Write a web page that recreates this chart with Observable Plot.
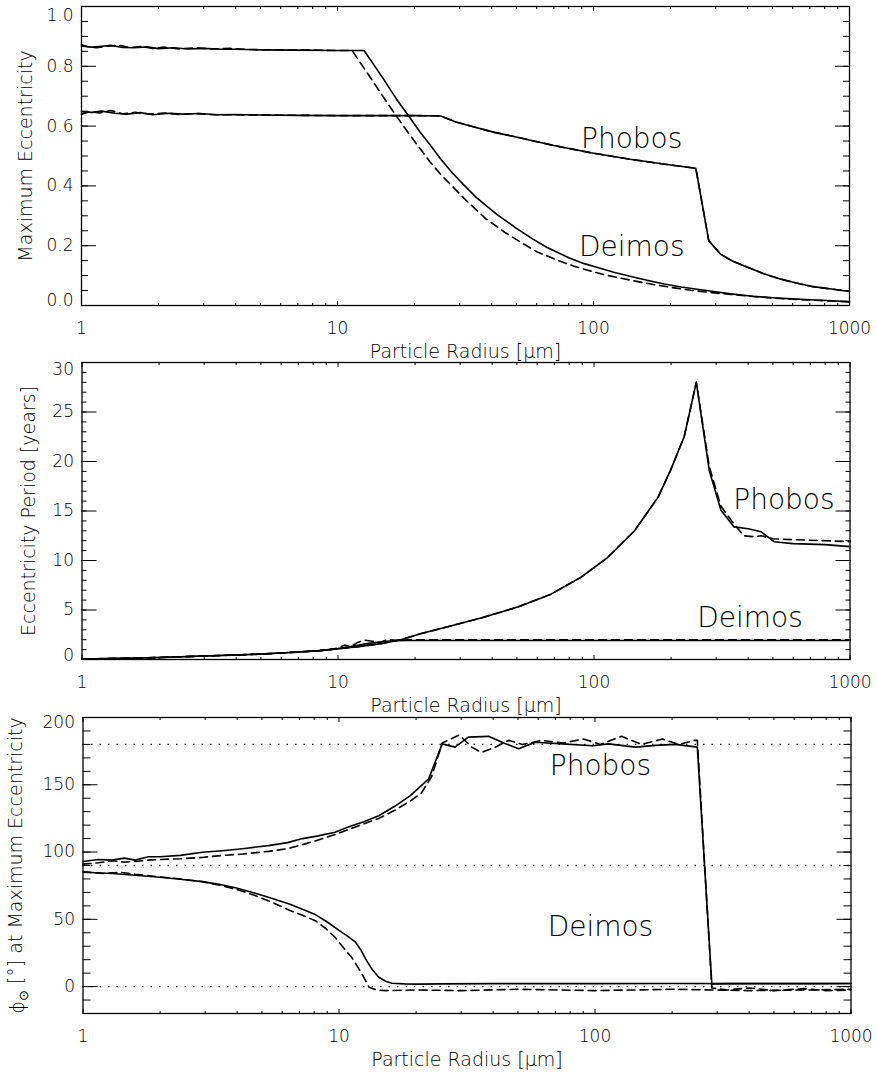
<!DOCTYPE html>
<html>
<head>
<meta charset="utf-8">
<script src="https://cdn.jsdelivr.net/npm/d3@7"></script>
<script src="https://cdn.jsdelivr.net/npm/@observablehq/plot@0.6"></script>
<style>
  html, body { margin: 0; padding: 0; background: #fff; }
  #charts svg { display: block; overflow: visible; }
</style>
</head>
<body>
<div id="charts"></div>
<script>
// ---- Shared x axis: particle radius in micrometres (log scale) ----
const decades = [1, 10, 100, 1000];

// ---- Panel 1: maximum eccentricity ----
const eccR_deimos = [1, 1.1, 1.2, 1.3, 1.45, 1.6, 1.8, 2, 2.3, 2.6, 3, 3.5, 4, 5, 7, 10, 12.7, 15, 17, 19, 21, 23.1, 25.3, 28, 31, 35, 41.9, 50, 58, 65.9, 80, 92, 103, 120, 140, 165, 189, 220, 250, 300, 343, 420, 500, 600, 700, 850, 1000];
const ecc_deimos = [0.868, 0.864, 0.867, 0.870, 0.863, 0.862, 0.865, 0.859, 0.862, 0.858, 0.860, 0.857, 0.857, 0.855, 0.854, 0.853, 0.853, 0.762, 0.69, 0.633, 0.58, 0.535, 0.49, 0.445, 0.405, 0.36, 0.305, 0.258, 0.222, 0.194, 0.16, 0.14, 0.128, 0.111, 0.097, 0.083, 0.072, 0.062, 0.055, 0.046, 0.039, 0.031, 0.026, 0.022, 0.019, 0.016, 0.013];
const eccR_deimosAlt = [1, 1.05, 1.15, 1.25, 1.4, 1.55, 1.7, 1.9, 2.1, 2.4, 2.8, 3.2, 3.8, 4.5, 6, 8, 10, 11.4, 13.5, 15.3, 17, 19, 21, 23, 25.5, 28, 31.5, 38, 45, 53, 60, 73, 85, 95, 110, 130, 155, 180, 210, 240, 290, 343, 420, 500, 600, 700, 850, 1000];
const ecc_deimosAlt = [0.872, 0.866, 0.862, 0.867, 0.870, 0.863, 0.866, 0.860, 0.864, 0.858, 0.862, 0.858, 0.860, 0.856, 0.855, 0.854, 0.853, 0.853, 0.76, 0.69, 0.633, 0.575, 0.525, 0.48, 0.435, 0.40, 0.355, 0.29, 0.245, 0.207, 0.18, 0.15, 0.13, 0.118, 0.103, 0.09, 0.077, 0.067, 0.058, 0.051, 0.043, 0.037, 0.03, 0.025, 0.021, 0.018, 0.015, 0.012];
const eccR_phobos = [1, 1.1, 1.2, 1.35, 1.5, 1.7, 1.9, 2.2, 2.5, 2.9, 3.4, 4, 5, 7, 10, 15, 20, 25.3, 29, 34.2, 41, 50.3, 70, 97.6, 139, 200, 251, 282, 313, 350, 400, 460, 535, 620, 721, 850, 1000];
const ecc_phobos = [0.648, 0.646, 0.650, 0.643, 0.640, 0.645, 0.638, 0.643, 0.640, 0.642, 0.638, 0.639, 0.637, 0.636, 0.635, 0.635, 0.635, 0.634, 0.614, 0.597, 0.579, 0.563, 0.535, 0.511, 0.489, 0.470, 0.459, 0.217, 0.172, 0.148, 0.128, 0.107, 0.089, 0.075, 0.063, 0.055, 0.047];
const eccR_phobosAlt = [1, 1.08, 1.18, 1.3, 1.45, 1.62, 1.85, 2.1, 2.4, 2.8, 3.3, 4, 5, 7, 10, 15, 20, 25.3, 29, 34.2, 41, 50.3, 70, 97.6, 139, 200, 251, 282, 313, 350, 400, 460, 535, 620, 721, 850, 1000];
const ecc_phobosAlt = [0.640, 0.648, 0.644, 0.652, 0.641, 0.646, 0.640, 0.644, 0.639, 0.642, 0.638, 0.638, 0.637, 0.636, 0.635, 0.635, 0.635, 0.634, 0.614, 0.597, 0.579, 0.563, 0.535, 0.511, 0.489, 0.470, 0.459, 0.217, 0.172, 0.148, 0.128, 0.107, 0.089, 0.075, 0.063, 0.055, 0.047];

// ---- Panel 2: eccentricity period [years] ----
const perR_phobos = [1, 1.5, 2, 3, 4, 5, 6, 7, 8.5, 10, 12, 14.7, 17.6, 21, 26.8, 36.2, 50.3, 68, 88.8, 113, 144, 178, 199, 225, 251, 282, 313, 352, 400, 450, 505, 600, 800, 1000];
const per_phobos = [0.05, 0.12, 0.2, 0.35, 0.45, 0.55, 0.65, 0.75, 0.9, 1.08, 1.3, 1.6, 2.0, 2.6, 3.3, 4.2, 5.3, 6.6, 8.3, 10.3, 13.0, 16.4, 19.1, 22.5, 28.0, 19.1, 15.1, 13.4, 13.2, 12.9, 11.9, 11.7, 11.6, 11.4];
const perR_phobosAlt = [1, 1.5, 2, 3, 4, 5, 6, 7, 8.5, 10, 12, 14.7, 17.6, 21, 26.8, 36.2, 50.3, 68, 88.8, 113, 144, 178, 199, 225, 251, 282, 313, 345, 365, 385, 420, 450, 500, 600, 800, 1000];
const per_phobosAlt = [0.05, 0.12, 0.2, 0.35, 0.45, 0.55, 0.65, 0.75, 0.9, 1.08, 1.3, 1.6, 2.0, 2.6, 3.3, 4.2, 5.3, 6.6, 8.3, 10.3, 13.0, 16.4, 19.1, 22.5, 28.0, 19.5, 15.5, 14.0, 13.2, 12.5, 12.4, 12.5, 12.2, 12.1, 12.0, 11.9];
const perR_deimos = [1, 1.5, 2, 3, 4, 5, 6, 7, 8.5, 10, 11.5, 13, 14.7, 16.5, 19, 25, 40, 100, 300, 1000];
const per_deimos = [0.05, 0.12, 0.2, 0.35, 0.45, 0.55, 0.65, 0.75, 0.9, 1.1, 1.35, 1.6, 1.8, 1.9, 1.92, 1.92, 1.92, 1.92, 1.92, 1.92];
const perR_deimosAlt = [1, 2, 3, 5, 7, 9, 10, 10.6, 11.2, 12, 12.8, 13.6, 14.5, 15.5, 17, 20, 30, 100, 300, 1000];
const per_deimosAlt = [0.05, 0.2, 0.35, 0.55, 0.75, 0.95, 1.15, 1.45, 1.3, 1.75, 1.95, 1.85, 1.7, 2.0, 1.95, 2.0, 2.0, 2.0, 2.0, 2.0];

// ---- Panel 3: solar angle at maximum eccentricity [deg] ----
const angR_phobos = [1, 1.15, 1.3, 1.45, 1.6, 1.8, 2, 2.4, 2.92, 3.5, 4.2, 5.3, 6.3, 7.2, 8.3, 9.65, 11, 12.5, 14.3, 16.5, 19, 22.4, 25.3, 28.4, 32, 38.4, 44, 50.3, 58.5, 74.4, 97.6, 113, 144, 172, 206, 251, 286, 350, 500, 700, 1000];
const ang_phobos = [93, 94.5, 94, 95.5, 94, 96.5, 96.5, 97.5, 99.8, 101, 102.5, 104.8, 107, 110, 112, 114.7, 119, 122.5, 127, 134, 142, 154.4, 180.4, 178, 185.4, 186, 181, 176.7, 181.6, 180.4, 179, 180.4, 178, 179.3, 180, 178, 2, 2.2, 2.3, 2.2, 2.3];
const angR_phobosAlt = [1, 1.15, 1.3, 1.45, 1.6, 1.8, 2, 2.4, 2.92, 3.5, 4.2, 5.3, 6.3, 7.2, 8.3, 9.65, 11, 12.5, 14.3, 16.5, 19, 21, 23, 25.3, 29.5, 33, 36, 40.8, 46, 52, 62, 75, 90, 105, 127, 152, 183, 212, 245, 251, 286, 330, 400, 500, 650, 800, 1000];
const ang_phobosAlt = [91, 92, 93.5, 92.5, 93, 94, 94.5, 95, 96, 97.5, 98.5, 100.5, 102.5, 105.5, 109, 113, 117, 121, 125, 131, 138, 144, 156, 181, 187, 178, 174, 178, 183, 180, 183, 181, 184, 180, 186, 180, 184, 180, 183, 183, -1, -2.5, -1, -3, -1.5, -3, -2.5];
const angR_deimos = [1, 1.3, 1.6, 2, 2.4, 2.92, 3.4, 3.94, 4.6, 5.3, 5.8, 6.36, 7.2, 8.08, 9, 9.97, 10.8, 11.6, 12.2, 12.7, 13.5, 14.3, 15.2, 16.1, 18, 20.5, 25, 40, 100, 200, 500, 1000];
const ang_deimos = [85, 84, 82.8, 81.3, 79.8, 78, 76, 73.5, 70, 66.4, 64, 61.5, 57.5, 53.5, 48, 42, 37.5, 33, 27, 20.6, 12.5, 6.9, 4, 2.5, 2, 1.8, 2, 2.2, 2.2, 2.3, 2.2, 2.3];
const angR_deimosAlt = [1, 1.2, 1.4, 1.6, 2, 2.4, 2.92, 3.5, 4.1, 4.7, 5.5, 6.36, 7.2, 8.08, 8.9, 9.65, 10.4, 11.2, 12.3, 13.1, 14, 15.2, 20, 30, 50, 100, 200, 400, 700, 1000];
const ang_deimosAlt = [85.5, 84, 85, 83.5, 81.5, 80, 78, 75, 71.5, 67.7, 62.5, 57, 53, 49, 43, 36.7, 29, 21.8, 9.4, -0.5, -2.5, -3, -2.5, -3, -2, -3, -2, -3, -2.5, -2];
const refAngles = [0, 90, 180];

// Moon name labels, placed in each panel's data coordinates
const eccNames = [{name: "Phobos", r: 141, v: 0.557}, {name: "Deimos", r: 141, v: 0.197}];
const perNames = [{name: "Phobos", r: 552, v: 16.1}, {name: "Deimos", r: 407, v: 4.2}];
const angNames = [{name: "Phobos", r: 105, v: 164}, {name: "Deimos", r: 105, v: 44.6}];

// ---- helpers ----
const series = (rs, vs) => rs.map((r, i) => ({r, v: vs[i]}));
const minorX = decades.slice(0, 3).flatMap(d => d3.range(2, 10).map(k => k * d));
const FONT = "'DejaVu Sans', 'Liberation Sans', sans-serif";

// Inward-pointing ticks on all four sides of the frame
function frameTicks(yMajor, yMinor, majorLen, minorLen) {
  const c = {tickFormat: () => "", label: null, stroke: "black", strokeWidth: 1};
  return [
    Plot.axisX(decades, {...c, anchor: "bottom", tickSize: 4, dy: -4}),
    Plot.axisX(minorX, {...c, anchor: "bottom", tickSize: 2, dy: -2}),
    Plot.axisX(decades, {...c, anchor: "top", tickSize: 4, dy: 4}),
    Plot.axisX(minorX, {...c, anchor: "top", tickSize: 2, dy: 2}),
    Plot.axisY(yMajor, {...c, anchor: "left", tickSize: majorLen, dx: majorLen}),
    Plot.axisY(yMinor, {...c, anchor: "left", tickSize: minorLen, dx: minorLen}),
    Plot.axisY(yMajor, {...c, anchor: "right", tickSize: majorLen, dx: -majorLen}),
    Plot.axisY(yMinor, {...c, anchor: "right", tickSize: minorLen, dx: -minorLen})
  ];
}

// Tick labels and axis titles drawn as text around the frame
function frameText({yLabels, fmt, topNudge, bottomNudge, yTitle, yTitleDx}) {
  const inner = yLabels.slice(1, -1);
  const first = yLabels[0], last = yLabels[yLabels.length - 1];
  const yl = {y: d => d, text: fmt, frameAnchor: "left", dx: -8, textAnchor: "end", lineAnchor: "middle", fontSize: 17};
  return [
    Plot.text(decades, {x: d => d, text: d => String(d), frameAnchor: "bottom", dy: 23, lineAnchor: "middle", textAnchor: "middle", fontSize: 17}),
    Plot.text(["Particle Radius [μm]"], {text: d => d, frameAnchor: "bottom", dy: 46, lineAnchor: "middle", textAnchor: "middle", fontSize: 19}),
    Plot.text(inner, yl),
    Plot.text([first], {...yl, dy: bottomNudge}),
    Plot.text([last], {...yl, dy: topNudge}),
    Plot.text([yTitle], {text: d => d, frameAnchor: "left", dx: yTitleDx, rotate: -90, textAnchor: "middle", lineAnchor: "middle", fontSize: 19})
  ];
}

const lineStyle = {x: "r", y: "v", stroke: "black", strokeWidth: 1.6};
const dashStyle = {...lineStyle, strokeDasharray: "8,5"};
const nameStyle = {x: "r", y: "v", text: "name", fontSize: 28};

function panel({height, marginTop, marginBottom, marginLeft, marginRight, yDomain, marks}) {
  return Plot.plot({
    width: 877, height, marginTop, marginBottom, marginLeft, marginRight,
    style: {fontFamily: FONT, fontWeight: 200, background: "transparent", color: "black", overflow: "visible"},
    x: {type: "log", domain: [1, 1000]},
    y: {domain: yDomain},
    marks
  });
}

const charts = document.getElementById("charts");

// Panel 1
charts.append(panel({
  height: 357, marginTop: 6, marginBottom: 52, marginLeft: 81, marginRight: 28,
  yDomain: [0, 1],
  marks: [
    ...frameTicks(d3.range(0, 1.01, 0.2), d3.range(0, 1.01, 0.05), 15, 7),
    Plot.line(series(eccR_deimosAlt, ecc_deimosAlt), dashStyle),
    Plot.line(series(eccR_phobosAlt, ecc_phobosAlt), dashStyle),
    Plot.line(series(eccR_deimos, ecc_deimos), lineStyle),
    Plot.line(series(eccR_phobos, ecc_phobos), lineStyle),
    Plot.text(eccNames, nameStyle),
    Plot.frame({stroke: "black", strokeWidth: 1.3}),
    ...frameText({yLabels: d3.range(0, 1.01, 0.2), fmt: d3.format(".1f"), topNudge: 9, bottomNudge: -5,
                  yTitle: "Maximum Eccentricity", yTitleDx: -56})
  ]
}));

// Panel 2
charts.append(panel({
  height: 355, marginTop: 5, marginBottom: 53, marginLeft: 81.5, marginRight: 27.5,
  yDomain: [0, 30],
  marks: [
    ...frameTicks(d3.range(0, 31, 5), d3.range(0, 31, 1), 15, 5),
    Plot.line(series(perR_deimosAlt, per_deimosAlt), dashStyle),
    Plot.line(series(perR_phobosAlt, per_phobosAlt), dashStyle),
    Plot.line(series(perR_deimos, per_deimos), lineStyle),
    Plot.line(series(perR_phobos, per_phobos), lineStyle),
    Plot.text(perNames, nameStyle),
    Plot.frame({stroke: "black", strokeWidth: 1.3}),
    ...frameText({yLabels: d3.range(0, 31, 5), fmt: d => String(d), topNudge: 7, bottomNudge: -4,
                  yTitle: "Eccentricity Period [years]", yTitleDx: -53.5})
  ]
}));

// Panel 3
charts.append(panel({
  height: 361, marginTop: 5, marginBottom: 60, marginLeft: 82.5, marginRight: 26.5,
  yDomain: [-20, 200],
  marks: [
    ...frameTicks(d3.range(0, 201, 50), d3.range(-20, 201, 10), 15, 8),
    Plot.ruleY(refAngles, {stroke: "black", strokeWidth: 1.3, strokeDasharray: "1.5,7"}),
    Plot.line(series(angR_deimosAlt, ang_deimosAlt), dashStyle),
    Plot.line(series(angR_phobosAlt, ang_phobosAlt), dashStyle),
    Plot.line(series(angR_deimos, ang_deimos), lineStyle),
    Plot.line(series(angR_phobos, ang_phobos), lineStyle),
    Plot.text(angNames, nameStyle),
    Plot.frame({stroke: "black", strokeWidth: 1.3}),
    ...frameText({yLabels: d3.range(0, 201, 50), fmt: d => String(d), topNudge: 5, bottomNudge: 0,
                  yTitle: "ϕ⊙ [°] at Maximum Eccentricity", yTitleDx: -65})
  ]
}));

// Set the sun symbol as a subscript of phi in the last panel's y title
d3.selectAll("#charts text").each(function () {
  const t = this.textContent;
  if (t.startsWith("ϕ⊙")) {
    const el = d3.select(this);
    el.text(null);
    el.append("tspan").text("ϕ");
    el.append("tspan").attr("dy", "0.3em").attr("font-size", "13px").text("⊙");
    el.append("tspan").attr("dy", "-0.3em").text(t.slice(2));
  }
});
</script>
</body>
</html>
